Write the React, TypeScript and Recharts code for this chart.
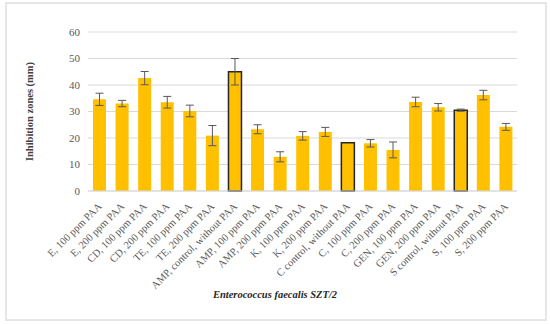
// Inhibition zones for Enterococcus faecalis SZT/2 — bar chart with error bars, control bars outlined.
import { Bar, BarChart, CartesianGrid, Cell, ErrorBar, Label, XAxis, YAxis } from 'recharts';

const categories = [
  'E, 100 ppm PAA',
  'E, 200 ppm PAA',
  'CD, 100 ppm PAA',
  'CD, 200 ppm PAA',
  'TE, 100 ppm PAA',
  'TE, 200 ppm PAA',
  'AMP, control, without PAA',
  'AMP, 100 ppm PAA',
  'AMP, 200 ppm PAA',
  'K, 100 ppm PAA',
  'K, 200 ppm PAA',
  'C control, without PAA',
  'C, 100 ppm PAA',
  'C, 200 ppm PAA',
  'GEN, 100 ppm PAA',
  'GEN, 200 ppm PAA',
  'S control, without PAA',
  'S, 100 ppm PAA',
  'S, 200 ppm PAA',
];
const zones = [34.6, 33.0, 42.6, 33.5, 30.2, 20.9, 45.0, 23.3, 12.9, 20.8, 22.3, 18.2, 18.0, 15.5, 33.6, 31.6, 30.5, 36.2, 24.2];
const errors = [2.3, 1.2, 2.5, 2.2, 2.2, 3.8, 5.0, 1.7, 1.9, 1.6, 1.7, 0, 1.4, 3.0, 1.8, 1.4, 0.4, 1.8, 1.3];
const controls = [false, false, false, false, false, false, true, false, false, false, false, true, false, false, false, false, true, false, false];
const yTicks = [0, 10, 20, 30, 40, 50, 60];

const data = categories.map((name, i) => ({ name, value: zones[i], err: errors[i], control: controls[i] }));

const FONT = '"Liberation Serif", "Times New Roman", serif';

function SlantTick({ x, y, payload }: any) {
  return (
    <text
      x={x + 3}
      y={y + 8}
      transform={`rotate(-45, ${x + 3}, ${y + 8})`}
      textAnchor="end"
      fontSize={10.5}
      fontFamily={FONT}
      fill="#595959"
    >
      {payload.value}
    </text>
  );
}

// x-axis title sits at the centre of the whole figure, not the plot area
function XTitle({ viewBox }: any) {
  const y = viewBox.y + viewBox.height - 26;
  return (
    <text
      x={275}
      y={y}
      textAnchor="middle"
      fontFamily={FONT}
      fontSize={10.5}
      fontStyle="italic"
      fontWeight="bold"
      fill="#262626"
    >
      Enterococcus faecalis SZT/2
    </text>
  );
}

export default function App() {
  return (
    <div style={{ position: 'absolute', left: 0, top: 0, width: 550, height: 324, background: '#fff' }}>
      <div
        style={{
          position: 'absolute',
          left: 5,
          top: 2,
          width: 538,
          height: 315,
          border: '2px solid #e6e6e6',
        }}
      />
      <BarChart
        width={550}
        height={324}
        data={data}
        margin={{ top: 32, right: 33, bottom: 0, left: 0 }}
        style={{ position: 'absolute', left: 0, top: 0 }}
      >
        <CartesianGrid vertical={false} stroke="#d9d9d9" />
        <XAxis
          dataKey="name"
          interval={0}
          height={133}
          tick={<SlantTick />}
          tickLine={false}
          axisLine={{ stroke: '#d9d9d9' }}
        >
          <Label content={<XTitle />} />
        </XAxis>
        <YAxis
          domain={[0, 60]}
          ticks={yTicks}
          width={88}
          axisLine={false}
          tickLine={false}
          tick={{ fontFamily: FONT, fontSize: 11, fill: '#595959' }}
        >
          <Label
            value="Inhibition zones (mm)"
            angle={-90}
            position="insideLeft"
            offset={29}
            style={{ textAnchor: 'middle', fontFamily: FONT, fontSize: 10.5, fontWeight: 'bold', fill: '#404040' }}
          />
        </YAxis>
        <Bar dataKey="value" fill="#FFC000" barSize={13} isAnimationActive={false}>
          {data.map((d) => (
            <Cell
              key={d.name}
              stroke={d.control ? '#262626' : 'none'}
              strokeWidth={d.control ? 1.5 : 0}
            />
          ))}
          <ErrorBar dataKey="err" width={4} stroke="#595959" strokeWidth={1} />
        </Bar>
      </BarChart>
    </div>
  );
}
